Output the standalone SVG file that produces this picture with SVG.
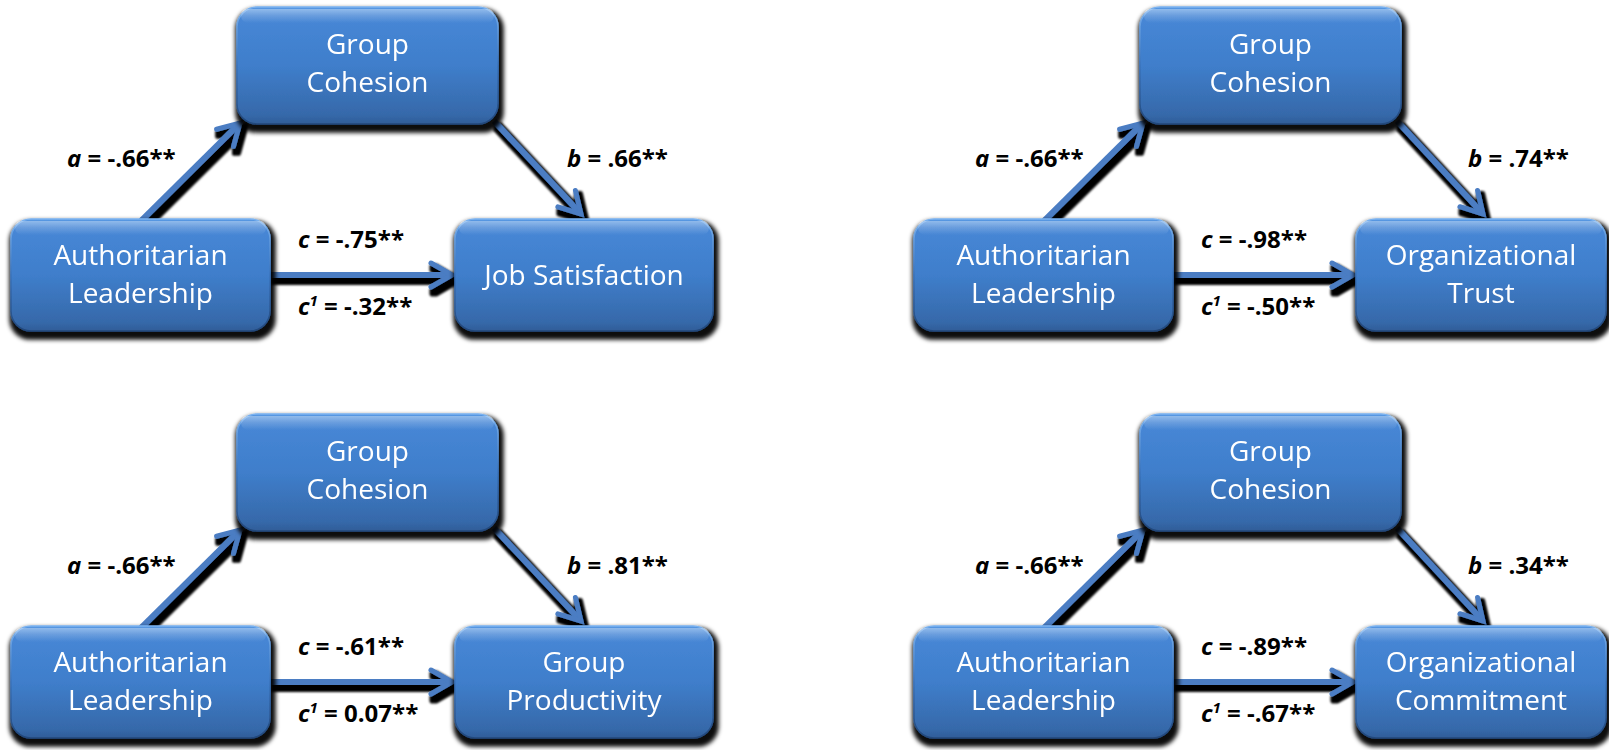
<svg xmlns="http://www.w3.org/2000/svg" width="1609" height="750" viewBox="0 0 1609 750">
  <style>
    .box { fill: url(#boxFill); stroke: url(#boxEdge); stroke-width: 1.5; }
    .gloss { fill: url(#glossFill); }
    .node text { font-family: "Open Sans", "Liberation Sans", sans-serif; font-size: 28px; fill: #ffffff; text-anchor: middle; }
    .wire { fill: none; stroke: #4b7dc3; stroke-width: 6; marker-end: url(#head); }
    .lbl { font-family: "Open Sans", "Liberation Sans", sans-serif; font-size: 24px; font-weight: bold; fill: #000000; }
    .v { font-style: italic; }
    .sup { font-style: italic; font-size: 15px; }
  </style>
  <defs>
    <linearGradient id="boxFill" x1="0" y1="0" x2="0" y2="1">
      <stop offset="0" stop-color="#5a9ae4"/>
      <stop offset="0.07" stop-color="#4787d6"/>
      <stop offset="0.5" stop-color="#3f7ecb"/>
      <stop offset="0.92" stop-color="#3669aa"/>
      <stop offset="1" stop-color="#2f5d98"/>
    </linearGradient>
    <linearGradient id="boxEdge" x1="0" y1="0" x2="0" y2="1">
      <stop offset="0" stop-color="#7ab2f0"/>
      <stop offset="0.5" stop-color="#3a73bb"/>
      <stop offset="1" stop-color="#22477a"/>
    </linearGradient>
    <linearGradient id="glossFill" x1="0" y1="0" x2="0" y2="1">
      <stop offset="0" stop-color="#ffffff" stop-opacity="0.35"/>
      <stop offset="1" stop-color="#ffffff" stop-opacity="0"/>
    </linearGradient>
    <filter id="boxShadow" x="-10%" y="-10%" width="125%" height="135%">
      <feMorphology in="SourceAlpha" operator="dilate" radius="2.5" result="grown"/>
      <feOffset in="grown" dx="2" dy="5" result="moved"/>
      <feGaussianBlur in="moved" stdDeviation="2" result="soft"/>
      <feFlood flood-color="#000000" flood-opacity="0.95"/>
      <feComposite in2="soft" operator="in" result="shade"/>
      <feMerge><feMergeNode in="shade"/><feMergeNode in="SourceGraphic"/></feMerge>
    </filter>
    <filter id="wireShadow" filterUnits="userSpaceOnUse" x="-50" y="-50" width="800" height="450">
      <feMorphology in="SourceAlpha" operator="dilate" radius="2" result="grown"/>
      <feOffset in="grown" dx="3" dy="5" result="moved"/>
      <feGaussianBlur in="moved" stdDeviation="0.8" result="soft"/>
      <feFlood flood-color="#000000"/>
      <feComposite in2="soft" operator="in" result="shade"/>
      <feMerge><feMergeNode in="shade"/><feMergeNode in="SourceGraphic"/></feMerge>
    </filter>
    <marker id="head" markerUnits="userSpaceOnUse" viewBox="-26 -16 30 32" refX="0" refY="0" markerWidth="30" markerHeight="32" orient="auto" overflow="visible">
      <path d="M-21,-12 L0,0 L-21,12" fill="none" stroke="#4b7dc3" stroke-width="5" stroke-linecap="round" stroke-linejoin="miter"/>
    </marker>
  </defs>

  <rect width="1609" height="750" fill="#ffffff"/>

  <!-- Panel 1: job satisfaction -->
  <g id="panel-satisfaction">
    <g id="connectors-satisfaction" filter="url(#wireShadow)">
      <path class="wire" d="M141,221 L240,123"/>
      <path class="wire" d="M494,121 L581,214"/>
      <path class="wire" d="M270,275 L452,275"/>
    </g>
    <g id="labels-satisfaction">
      <text class="lbl" x="67" y="167"><tspan class="v">a</tspan> = -.66**</text>
      <text class="lbl" x="567" y="167"><tspan class="v">b</tspan> = .66**</text>
      <text class="lbl" x="298" y="248"><tspan class="v">c</tspan> = -.75**</text>
      <text class="lbl" x="298" y="315"><tspan class="v">c</tspan><tspan class="sup" dy="-9">1</tspan><tspan dy="9"> = -.32**</tspan></text>
    </g>
    <g id="node-cohesion-1" class="node" filter="url(#boxShadow)">
      <rect class="box" x="237" y="7" width="261" height="117" rx="20"/>
      <rect class="gloss" x="241" y="9" width="253" height="14" rx="7"/>
      <text x="367.5" y="54">Group</text>
      <text x="367.5" y="92">Cohesion</text>
    </g>
    <g id="node-leadership-1" class="node" filter="url(#boxShadow)">
      <rect class="box" x="11" y="219" width="259" height="112" rx="20"/>
      <rect class="gloss" x="15" y="221" width="251" height="14" rx="7"/>
      <text x="140.5" y="265">Authoritarian</text>
      <text x="140.5" y="303">Leadership</text>
    </g>
    <g id="node-satisfaction" class="node" filter="url(#boxShadow)">
      <rect class="box" x="455" y="219" width="258" height="112" rx="20"/>
      <rect class="gloss" x="459" y="221" width="250" height="14" rx="7"/>
      <text x="584" y="285">Job Satisfaction</text>
    </g>
  </g>

  <!-- Panel 2: organizational trust -->
  <g id="panel-trust" transform="translate(903,0)">
    <g id="connectors-trust" filter="url(#wireShadow)">
      <path class="wire" d="M141,221 L240,123"/>
      <path class="wire" d="M494,121 L580,214"/>
      <path class="wire" d="M270,275 L450,275"/>
    </g>
    <g id="labels-trust">
      <text class="lbl" x="72" y="167"><tspan class="v">a</tspan> = -.66**</text>
      <text class="lbl" x="565" y="167"><tspan class="v">b</tspan> = .74**</text>
      <text class="lbl" x="298" y="248"><tspan class="v">c</tspan> = -.98**</text>
      <text class="lbl" x="298" y="315"><tspan class="v">c</tspan><tspan class="sup" dy="-9">1</tspan><tspan dy="9"> = -.50**</tspan></text>
    </g>
    <g id="node-cohesion-2" class="node" filter="url(#boxShadow)">
      <rect class="box" x="237" y="7" width="261" height="117" rx="20"/>
      <rect class="gloss" x="241" y="9" width="253" height="14" rx="7"/>
      <text x="367.5" y="54">Group</text>
      <text x="367.5" y="92">Cohesion</text>
    </g>
    <g id="node-leadership-2" class="node" filter="url(#boxShadow)">
      <rect class="box" x="11" y="219" width="259" height="112" rx="20"/>
      <rect class="gloss" x="15" y="221" width="251" height="14" rx="7"/>
      <text x="140.5" y="265">Authoritarian</text>
      <text x="140.5" y="303">Leadership</text>
    </g>
    <g id="node-trust" class="node" filter="url(#boxShadow)">
      <rect class="box" x="453" y="219" width="250" height="112" rx="20"/>
      <rect class="gloss" x="457" y="221" width="242" height="14" rx="7"/>
      <text x="578" y="265">Organizational</text>
      <text x="578" y="303">Trust</text>
    </g>
  </g>

  <!-- Panel 3: group productivity -->
  <g id="panel-productivity" transform="translate(0,407)">
    <g id="connectors-productivity" filter="url(#wireShadow)">
      <path class="wire" d="M141,221 L240,123"/>
      <path class="wire" d="M494,121 L581,214"/>
      <path class="wire" d="M270,275 L452,275"/>
    </g>
    <g id="labels-productivity">
      <text class="lbl" x="67" y="167"><tspan class="v">a</tspan> = -.66**</text>
      <text class="lbl" x="567" y="167"><tspan class="v">b</tspan> = .81**</text>
      <text class="lbl" x="298" y="248"><tspan class="v">c</tspan> = -.61**</text>
      <text class="lbl" x="298" y="315"><tspan class="v">c</tspan><tspan class="sup" dy="-9">1</tspan><tspan dy="9"> = 0.07**</tspan></text>
    </g>
    <g id="node-cohesion-3" class="node" filter="url(#boxShadow)">
      <rect class="box" x="237" y="7" width="261" height="117" rx="20"/>
      <rect class="gloss" x="241" y="9" width="253" height="14" rx="7"/>
      <text x="367.5" y="54">Group</text>
      <text x="367.5" y="92">Cohesion</text>
    </g>
    <g id="node-leadership-3" class="node" filter="url(#boxShadow)">
      <rect class="box" x="11" y="219" width="259" height="112" rx="20"/>
      <rect class="gloss" x="15" y="221" width="251" height="14" rx="7"/>
      <text x="140.5" y="265">Authoritarian</text>
      <text x="140.5" y="303">Leadership</text>
    </g>
    <g id="node-productivity" class="node" filter="url(#boxShadow)">
      <rect class="box" x="455" y="219" width="258" height="112" rx="20"/>
      <rect class="gloss" x="459" y="221" width="250" height="14" rx="7"/>
      <text x="584" y="265">Group</text>
      <text x="584" y="303">Productivity</text>
    </g>
  </g>

  <!-- Panel 4: organizational commitment -->
  <g id="panel-commitment" transform="translate(903,407)">
    <g id="connectors-commitment" filter="url(#wireShadow)">
      <path class="wire" d="M141,221 L240,123"/>
      <path class="wire" d="M494,121 L580,214"/>
      <path class="wire" d="M270,275 L450,275"/>
    </g>
    <g id="labels-commitment">
      <text class="lbl" x="72" y="167"><tspan class="v">a</tspan> = -.66**</text>
      <text class="lbl" x="565" y="167"><tspan class="v">b</tspan> = .34**</text>
      <text class="lbl" x="298" y="248"><tspan class="v">c</tspan> = -.89**</text>
      <text class="lbl" x="298" y="315"><tspan class="v">c</tspan><tspan class="sup" dy="-9">1</tspan><tspan dy="9"> = -.67**</tspan></text>
    </g>
    <g id="node-cohesion-4" class="node" filter="url(#boxShadow)">
      <rect class="box" x="237" y="7" width="261" height="117" rx="20"/>
      <rect class="gloss" x="241" y="9" width="253" height="14" rx="7"/>
      <text x="367.5" y="54">Group</text>
      <text x="367.5" y="92">Cohesion</text>
    </g>
    <g id="node-leadership-4" class="node" filter="url(#boxShadow)">
      <rect class="box" x="11" y="219" width="259" height="112" rx="20"/>
      <rect class="gloss" x="15" y="221" width="251" height="14" rx="7"/>
      <text x="140.5" y="265">Authoritarian</text>
      <text x="140.5" y="303">Leadership</text>
    </g>
    <g id="node-commitment" class="node" filter="url(#boxShadow)">
      <rect class="box" x="453" y="219" width="250" height="112" rx="20"/>
      <rect class="gloss" x="457" y="221" width="242" height="14" rx="7"/>
      <text x="578" y="265">Organizational</text>
      <text x="578" y="303">Commitment</text>
    </g>
  </g>
</svg>
